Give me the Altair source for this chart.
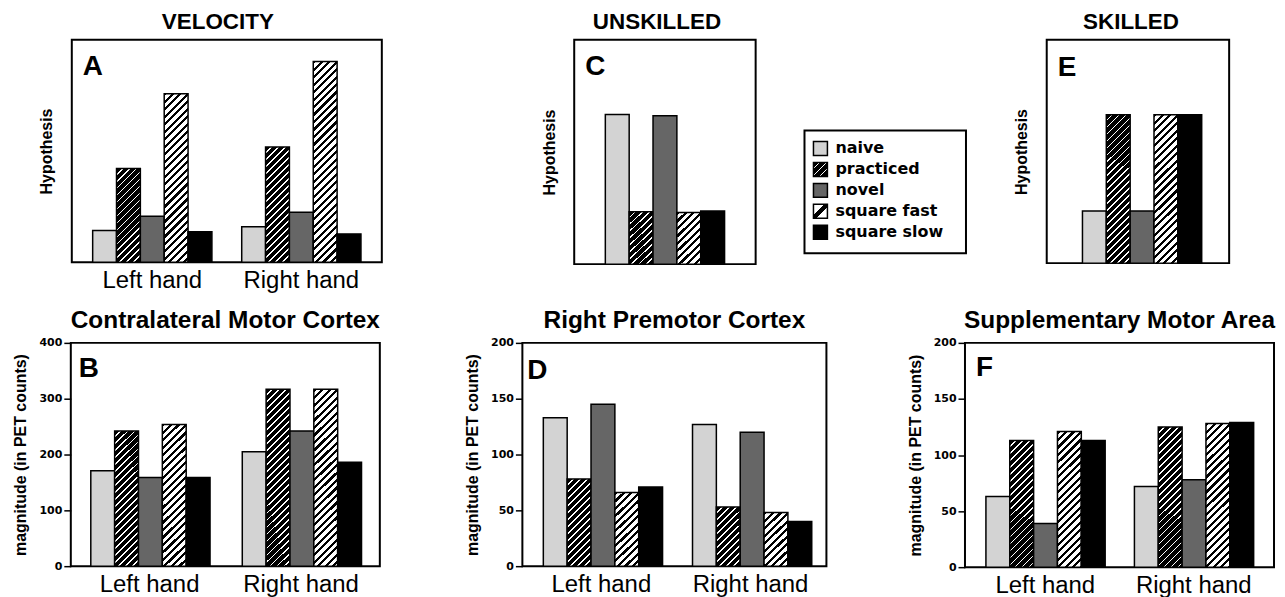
import altair as alt

# ---------------- data ----------------
conditions = ["naive", "practiced", "novel", "square fast", "square slow"]
hands = ["Left hand", "Right hand"]

velocity_left = [14.2, 42.1, 20.6, 75.8, 13.7]
velocity_right = [15.9, 51.8, 22.4, 90.3, 12.7]
unskilled_values = [66.7, 23.4, 66.2, 23.0, 23.7]
skilled_values = [23.3, 66.5, 23.3, 66.5, 66.5]
motor_left = [171, 242, 159, 254, 159]
motor_right = [205, 317, 242, 317, 186]
premotor_left = [133, 78, 145, 66, 71]
premotor_right = [127, 53, 120, 48, 40]
sma_left = [63, 113, 39, 121, 113]
sma_right = [72, 125, 78, 128, 129]

ticks_400 = [0, 100, 200, 300, 400]
ticks_200 = [0, 50, 100, 150, 200]

BLACK = "#000000"
WHITE = "#ffffff"
TITLE_FONT = "Liberation Sans"


# ---------------- patterns (styles) ----------------
def diagonal(w, h, period, dark, light, dark_frac):
    """'/' hatch as a bounding-box linear gradient for a w x h px box."""
    total = w + h
    stops = []
    pos = 0.0
    while pos < total - 1e-9:
        a = pos / total
        b = min((pos + period * dark_frac) / total, 1.0)
        c = min((pos + period) / total, 1.0)
        stops += [
            {"offset": round(a, 5), "color": dark},
            {"offset": round(b, 5), "color": dark},
            {"offset": round(b, 5), "color": light},
            {"offset": round(c, 5), "color": light},
        ]
        pos += period
    s = total / (w * w + h * h)
    return {"gradient": "linear", "x1": 0, "y1": 0,
            "x2": round(w * s, 5), "y2": round(h * s, 5), "stops": stops}


def bar_fill(cond, w, h):
    h = max(h, 1.0)
    if cond == "naive":
        return "#d3d3d3"
    if cond == "practiced":
        return diagonal(w, h, 7.0, BLACK, WHITE, 0.74)
    if cond == "novel":
        return "#666666"
    if cond == "square fast":
        return diagonal(w, h, 7.5, BLACK, WHITE, 0.42)
    return BLACK


def swatch_fill(cond):
    if cond == "naive":
        return "#d3d3d3"
    if cond == "practiced":
        return diagonal(14, 14, 7.0, BLACK, WHITE, 0.74)
    if cond == "novel":
        return "#666666"
    if cond == "square fast":
        return {"gradient": "linear", "x1": 0, "y1": 0, "x2": 1, "y2": 1,
                "stops": [{"offset": 0, "color": WHITE}, {"offset": 0.4, "color": WHITE},
                          {"offset": 0.4, "color": BLACK}, {"offset": 0.6, "color": BLACK},
                          {"offset": 0.6, "color": WHITE}, {"offset": 1, "color": WHITE}]}
    return BLACK


# ---------------- building blocks ----------------
def spacer(w, h=20):
    return alt.Chart(alt.Data(values=[{"s": 0}])).mark_rect(opacity=0).encode(
        x=alt.value(0), x2=alt.value(w), y=alt.value(0), y2=alt.value(h)
    ).properties(width=w, height=h, view=alt.ViewBackground(stroke="transparent"))


def letter_layer(letter, lx, ly):
    return alt.Chart(alt.Data(values=[{"letter": letter}])).mark_text(
        align="left", baseline="alphabetic", font=TITLE_FONT, fontSize=28,
        fontWeight="bold", color="black"
    ).encode(x=alt.value(lx), y=alt.value(ly), text="letter:N")


def y_axis(hypothesis, ticks=None):
    if hypothesis:
        return alt.Axis(title="Hypothesis", labels=False, ticks=False, domain=False,
                        grid=False, titlePadding=17)
    return alt.Axis(title="magnitude (in PET counts)", values=ticks, ticks=True, tickSize=7,
                    domain=False, grid=False, labelPadding=2, titlePadding=10)


def panel(groups, group_values, ymax, hypothesis, ticks, show_x, title_text, title_size,
          title_offset, title_dx, letter, lx, ly, width, height, pad_inner, pad_outer, align):
    n = len(groups)
    step = width / (n - pad_inner + 2 * pad_outer)
    bar_w = step * (1 - pad_inner) / 5
    records = []
    for grp, vals in zip(groups, group_values):
        for cond, v in zip(conditions, vals):
            records.append({"hand": grp, "cond": cond, "v": v,
                            "pattern": bar_fill(cond, bar_w, v / ymax * height)})
    if show_x:
        x_axis = alt.Axis(title=None, labelAngle=0, ticks=False, domain=False,
                          labelPadding=6, labelFontSize=24, labelFont=TITLE_FONT,
                          labelFontWeight="normal")
    else:
        x_axis = None
    bars = alt.Chart(alt.Data(values=records)).mark_bar(
        stroke="black", strokeWidth=1.5
    ).encode(
        x=alt.X("hand:N", sort=groups,
                scale=alt.Scale(domain=groups, paddingInner=pad_inner,
                                paddingOuter=pad_outer, align=align),
                axis=x_axis),
        xOffset=alt.XOffset("cond:N", sort=conditions,
                            scale=alt.Scale(domain=conditions, paddingInner=0, paddingOuter=0)),
        y=alt.Y("v:Q", stack=None, scale=alt.Scale(domain=[0, ymax], nice=False, zero=True),
                axis=y_axis(hypothesis, ticks)),
        fill=alt.Fill("pattern:N", scale=None),
    )
    return alt.layer(bars, letter_layer(letter, lx, ly)).properties(
        width=width, height=height,
        title=alt.TitleParams(title_text, font=TITLE_FONT, fontSize=title_size,
                              fontWeight="bold", offset=title_offset, dx=title_dx,
                              anchor="middle", color="black"),
    )


# ---------------- panels ----------------
panel_a = panel(hands, [velocity_left, velocity_right], 100, True, None, True, "VELOCITY",
                22.5, 6, -9, "A", 11, 35, 311, 223, 0.2, 0.14, 0.5)
panel_c = panel(["all"], [unskilled_values], 100, True, None, False, "UNSKILLED",
                22.5, 6, -8, "C", 11, 35, 182, 225, 0, 0.278, 0.48)
panel_e = panel(["all"], [skilled_values], 100, True, None, False, "SKILLED",
                22.5, 6, -7, "E", 11, 36, 183, 224, 0, 0.269, 0.56)

panel_b = panel(hands, [motor_left, motor_right], 400, False, ticks_400, True,
                "Contralateral Motor Cortex", 24.5, 3, 0, "B", 8, 34,
                310, 224, 0.224, 0.132, 0.5)
panel_d = panel(hands, [premotor_left, premotor_right], 200, False, ticks_200, True,
                "Right Premotor Cortex", 24.5, 3, 0, "D", 5, 36,
                305, 224, 0.222, 0.13, 0.54)
panel_f = panel(hands, [sma_left, sma_right], 200, False, ticks_200, True,
                "Supplementary Motor Area", 24.5, 3, 0, "F", 11, 33,
                310, 225, 0.201, 0.141, 0.5)

# ---------------- legend ----------------
legend_rows = [{"cond": c, "swatch": swatch_fill(c)} for c in conditions]
legend_y = alt.Y("cond:N", sort=conditions,
                 scale=alt.Scale(type="point", domain=conditions, range=[109, 193], padding=0),
                 axis=None)
legend_frame = alt.Chart(alt.Data(values=[{"f": 0}])).mark_rect(
    fill="white", stroke="black", strokeWidth=2
).encode(x=alt.value(0), x2=alt.value(162), y=alt.value(91), y2=alt.value(214))
legend_swatches = alt.Chart(alt.Data(values=legend_rows)).mark_square(
    size=196, stroke="black", strokeWidth=1.5, opacity=1
).encode(x=alt.value(16), y=legend_y, fill=alt.Fill("swatch:N", scale=None))
legend_text = alt.Chart(alt.Data(values=legend_rows)).mark_text(
    align="left", baseline="middle", font="DejaVu Sans", fontWeight="bold",
    fontSize=16, color="black"
).encode(x=alt.value(31), y=legend_y, text="cond:N")
legend = alt.layer(legend_frame, legend_swatches, legend_text).properties(
    width=162, height=225, view=alt.ViewBackground(stroke="transparent")
)

# ---------------- layout ----------------
row1 = alt.hconcat(spacer(63), panel_a, spacer(193), panel_c, spacer(49), legend,
                   spacer(81), panel_e, spacing=0, bounds="flush")
row2 = alt.hconcat(spacer(62), panel_b, spacer(143), panel_d, spacer(139), panel_f,
                   spacing=0, bounds="flush")

chart = alt.vconcat(row1, row2, spacing=14).properties(
    padding={"left": 0, "top": 1, "right": 0, "bottom": 0}
).configure_view(
    stroke="black", strokeWidth=2
).configure_axis(
    labelFont="DejaVu Sans", labelFontWeight="bold", labelFontSize=11, labelColor="black",
    titleFont=TITLE_FONT, titleFontWeight="bold", titleFontSize=16, titleColor="black",
    tickColor="black", tickWidth=1.5
)

chart.save("out.html", embed_options={"renderer": "svg", "actions": False})
